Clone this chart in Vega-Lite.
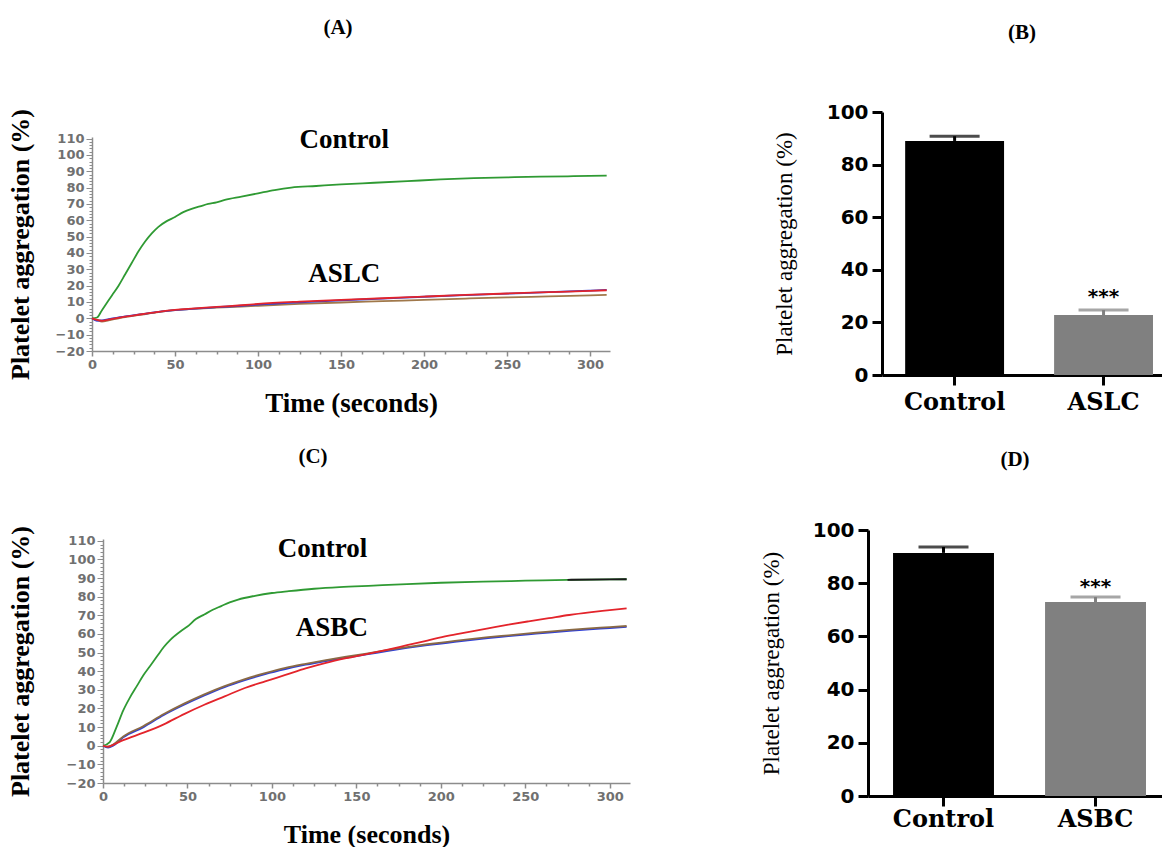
{
  "$schema": "https://vega.github.io/schema/vega-lite/v6.json",
  "background": "white",
  "padding": {"left": 7, "top": 16, "right": 0, "bottom": 0},
  "columns": 2,
  "spacing": {"row": 155, "column": 238},
  "bounds": "flush",
  "align": "each",
  "resolve": {"scale": {"color": "independent", "x": "independent", "y": "independent"}},
  "config": {"view": {"stroke": null}},
  "concat": [
    {
      "width": 518,
      "height": 239,
      "title": {"text": "(A)", "font": "Liberation Serif", "fontSize": 21, "fontWeight": "bold", "color": "black", "offset": 50, "dx": -13, "anchor": "middle", "frame": "group", "baseline": "bottom"},
      "layer": [
        {
          "data": {"values": [
            {"t":0,"v":0,"s":"Control"},{"t":3,"v":0.5,"s":"Control"},{"t":6,"v":5,"s":"Control"},{"t":9,"v":9.5,"s":"Control"},{"t":12,"v":14,"s":"Control"},{"t":16,"v":20,"s":"Control"},{"t":20,"v":27,"s":"Control"},{"t":24,"v":34,"s":"Control"},{"t":28,"v":41,"s":"Control"},{"t":32,"v":47,"s":"Control"},{"t":36,"v":52,"s":"Control"},{"t":40,"v":56,"s":"Control"},{"t":45,"v":59.5,"s":"Control"},{"t":50,"v":62,"s":"Control"},{"t":55,"v":65,"s":"Control"},{"t":60,"v":67,"s":"Control"},{"t":65,"v":68.5,"s":"Control"},{"t":70,"v":70,"s":"Control"},{"t":75,"v":71,"s":"Control"},{"t":80,"v":72.5,"s":"Control"},{"t":90,"v":74.5,"s":"Control"},{"t":100,"v":76.5,"s":"Control"},{"t":110,"v":78.5,"s":"Control"},{"t":120,"v":80,"s":"Control"},{"t":135,"v":81,"s":"Control"},{"t":150,"v":82,"s":"Control"},{"t":170,"v":83,"s":"Control"},{"t":190,"v":84,"s":"Control"},{"t":210,"v":85,"s":"Control"},{"t":230,"v":85.8,"s":"Control"},{"t":250,"v":86.3,"s":"Control"},{"t":270,"v":86.7,"s":"Control"},{"t":290,"v":87,"s":"Control"},{"t":310,"v":87.3,"s":"Control"},
            {"t":0,"v":0,"s":"R3"},{"t":3,"v":-1,"s":"R3"},{"t":6,"v":-2,"s":"R3"},{"t":10,"v":-1.2,"s":"R3"},{"t":20,"v":0.8,"s":"R3"},{"t":30,"v":2.3,"s":"R3"},{"t":40,"v":3.8,"s":"R3"},{"t":50,"v":5,"s":"R3"},{"t":60,"v":5.8,"s":"R3"},{"t":75,"v":6.5,"s":"R3"},{"t":90,"v":7.2,"s":"R3"},{"t":100,"v":7.7,"s":"R3"},{"t":125,"v":8.8,"s":"R3"},{"t":150,"v":9.7,"s":"R3"},{"t":175,"v":10.5,"s":"R3"},{"t":200,"v":11.3,"s":"R3"},{"t":225,"v":12.1,"s":"R3"},{"t":250,"v":12.8,"s":"R3"},{"t":275,"v":13.4,"s":"R3"},{"t":300,"v":14,"s":"R3"},{"t":310,"v":14.3,"s":"R3"},
            {"t":0,"v":0,"s":"R2"},{"t":3,"v":-1.5,"s":"R2"},{"t":6,"v":-1.2,"s":"R2"},{"t":10,"v":-0.5,"s":"R2"},{"t":20,"v":1.2,"s":"R2"},{"t":30,"v":2.6,"s":"R2"},{"t":40,"v":4,"s":"R2"},{"t":50,"v":5,"s":"R2"},{"t":60,"v":5.8,"s":"R2"},{"t":75,"v":6.8,"s":"R2"},{"t":90,"v":7.7,"s":"R2"},{"t":100,"v":8.4,"s":"R2"},{"t":125,"v":9.8,"s":"R2"},{"t":150,"v":11,"s":"R2"},{"t":175,"v":12.1,"s":"R2"},{"t":200,"v":13.2,"s":"R2"},{"t":225,"v":14.2,"s":"R2"},{"t":250,"v":15.1,"s":"R2"},{"t":275,"v":16,"s":"R2"},{"t":300,"v":17,"s":"R2"},{"t":310,"v":17.4,"s":"R2"},
            {"t":0,"v":0,"s":"R1"},{"t":3,"v":-1,"s":"R1"},{"t":6,"v":-1.5,"s":"R1"},{"t":10,"v":-0.8,"s":"R1"},{"t":20,"v":1,"s":"R1"},{"t":30,"v":2.5,"s":"R1"},{"t":40,"v":4,"s":"R1"},{"t":50,"v":5.2,"s":"R1"},{"t":60,"v":6,"s":"R1"},{"t":75,"v":7,"s":"R1"},{"t":90,"v":8,"s":"R1"},{"t":100,"v":8.8,"s":"R1"},{"t":125,"v":10.2,"s":"R1"},{"t":150,"v":11.3,"s":"R1"},{"t":175,"v":12.3,"s":"R1"},{"t":200,"v":13.3,"s":"R1"},{"t":225,"v":14.3,"s":"R1"},{"t":250,"v":15.2,"s":"R1"},{"t":275,"v":16,"s":"R1"},{"t":300,"v":16.8,"s":"R1"},{"t":310,"v":17.2,"s":"R1"}
          ]},
          "mark": {"type": "line", "strokeWidth": 1.8, "interpolate": "monotone"},
          "encoding": {
            "x": {"field": "t", "type": "quantitative", "title": "Time (seconds)", "scale": {"domain": [0, 312], "nice": false, "zero": false},
              "axis": {"values": [0,12.5,25,37.5,50,62.5,75,87.5,100,112.5,125,137.5,150,162.5,175,187.5,200,212.5,225,237.5,250,262.5,275,287.5,300],
                "tickCount": 500, "format": "d",
                "labelExpr": "datum.value % 50 === 0 ? datum.label : ''",
                "tickSize": {"condition": {"test": "datum.value % 50 === 0", "value": 5}, "value": 3},
                "labelFlush": false, "labelOverlap": false, "grid": false,
                "domainColor": "#8c8c8c", "domainWidth": 1.5, "tickColor": "#8c8c8c", "tickWidth": 1.5,
                "labelFont": "DejaVu Sans", "labelFontSize": 13, "labelFontWeight": "bold", "labelColor": "#707070", "labelPadding": 2,
                "titleFont": "Liberation Serif", "titleFontSize": 27, "titleFontWeight": "bold", "titleColor": "black", "titlePadding": 19}},
            "y": {"field": "v", "type": "quantitative", "title": "Platelet aggregation (%)", "scale": {"domain": [-20, 111], "nice": false, "zero": false, "range": [239, 25]},
              "axis": {"values": [-20,-18,-16,-14,-12,-10,-8,-6,-4,-2,0,2,4,6,8,10,12,14,16,18,20,22,24,26,28,30,32,34,36,38,40,42,44,46,48,50,52,54,56,58,60,62,64,66,68,70,72,74,76,78,80,82,84,86,88,90,92,94,96,98,100,102,104,106,108,110],
                "tickCount": 500, "format": "d",
                "labelExpr": "datum.value % 10 === 0 ? datum.label : ''",
                "tickSize": {"condition": {"test": "datum.value % 10 === 0", "value": 6}, "value": 3},
                "labelFlush": false, "labelOverlap": false, "grid": false,
                "domainColor": "#8c8c8c", "domainWidth": 1.5, "tickColor": "#8c8c8c", "tickWidth": 1,
                "labelFont": "DejaVu Sans", "labelFontSize": 13, "labelFontWeight": "bold", "labelColor": "#707070", "labelPadding": 2,
                "titleFont": "Liberation Serif", "titleFontSize": 26, "titleFontWeight": "bold", "titleColor": "black", "titlePadding": 22}},
            "color": {"field": "s", "type": "nominal", "legend": null,
              "scale": {"domain": ["Control", "R3", "R2", "R1"], "range": ["#2f9a33", "#a0784a", "#2f3fd6", "#e3242b"]}}
          }
        },
        {
          "data": {"values": [
            {"t": 152, "v": 109, "lab": "Control"},
            {"t": 152, "v": 27.4, "lab": "ASLC"}
          ]},
          "mark": {"type": "text", "font": "Liberation Serif", "fontSize": 27, "fontWeight": "bold", "align": "center", "baseline": "middle", "color": "black"},
          "encoding": {
            "x": {"field": "t", "type": "quantitative", "title": "Time (seconds)"},
            "y": {"field": "v", "type": "quantitative", "title": "Platelet aggregation (%)"},
            "text": {"field": "lab"}
          }
        }
      ]
    },
    {
      "width": 294,
      "height": 263,
      "title": {"text": "(B)", "font": "Liberation Serif", "fontSize": 21, "fontWeight": "bold", "color": "black", "offset": 38, "anchor": "middle", "frame": "group", "dx": 7, "baseline": "bottom"},
      "data": {"values": [
        {"g": "Control", "m": 89, "u": 90.8, "star": "", "sy": 0},
        {"g": "ASLC", "m": 22.8, "u": 24.7, "star": "***", "sy": 27.5}
      ]},
      "encoding": {
        "x": {"field": "g", "type": "nominal", "sort": ["Control", "ASLC"], "title": null,
          "scale": {"range": [14, 294], "paddingInner": 0.336, "paddingOuter": 0.108, "align": 0.72},
          "axis": {"labelAngle": 0, "domainWidth": 3, "domainColor": "black", "tickSize": 10, "tickWidth": 3, "tickColor": "black",
            "labelFont": "DejaVu Serif", "labelFontSize": 24, "labelFontWeight": "bold", "labelColor": "black", "labelPadding": 5}},
        "color": {"field": "g", "type": "nominal", "legend": null, "scale": {"domain": ["Control", "ASLC"], "range": ["#000000", "#808080"]}}
      },
      "layer": [
        {
          "mark": {"type": "bar"},
          "encoding": {
            "y": {"field": "m", "type": "quantitative", "title": "Platelet aggregation (%)", "scale": {"domain": [0, 100], "nice": false},
              "axis": {"values": [0, 20, 40, 60, 80, 100], "offset": -14, "grid": false, "domainWidth": 3, "domainColor": "black", "tickSize": 10, "tickWidth": 3, "tickColor": "black",
                "labelFont": "DejaVu Sans", "labelFontSize": 20, "labelFontWeight": "bold", "labelColor": "black", "labelPadding": 4,
                "titleFont": "Liberation Serif", "titleFontSize": 23, "titleFontWeight": "normal", "titleColor": "black", "titlePadding": 30}}
          }
        },
        {
          "mark": {"type": "rule", "strokeWidth": 3},
          "encoding": {"y": {"field": "m", "type": "quantitative", "title": "Platelet aggregation (%)"}, "y2": {"field": "u"}}
        },
        {
          "mark": {"type": "tick", "thickness": 3, "size": 50},
          "encoding": {"y": {"field": "u", "type": "quantitative", "title": "Platelet aggregation (%)"}}
        },
        {
          "transform": [{"filter": "datum.star != ''"}],
          "mark": {"type": "text", "font": "DejaVu Sans", "fontSize": 20, "fontWeight": "bold", "baseline": "alphabetic", "align": "center", "color": "black"},
          "encoding": {"y": {"field": "sy", "type": "quantitative", "title": "Platelet aggregation (%)"}, "text": {"field": "star"}, "color": {"value": "black"}}
        }
      ]
    },
    {
      "width": 538,
      "height": 253,
      "title": {"text": "(C)", "font": "Liberation Serif", "fontSize": 21, "fontWeight": "bold", "color": "black", "offset": 38, "dx": -48, "anchor": "middle", "frame": "group", "baseline": "bottom"},
      "layer": [
        {
          "data": {"values": [
            {"t":0,"v":0,"s":"Control"},{"t":4,"v":2,"s":"Control"},{"t":8,"v":10,"s":"Control"},{"t":12,"v":19,"s":"Control"},{"t":16,"v":26,"s":"Control"},{"t":20,"v":32,"s":"Control"},{"t":24,"v":38,"s":"Control"},{"t":28,"v":43,"s":"Control"},{"t":32,"v":48,"s":"Control"},{"t":36,"v":53,"s":"Control"},{"t":40,"v":57,"s":"Control"},{"t":46,"v":61.5,"s":"Control"},{"t":50,"v":64,"s":"Control"},{"t":55,"v":68,"s":"Control"},{"t":60,"v":70.5,"s":"Control"},{"t":65,"v":73,"s":"Control"},{"t":70,"v":75,"s":"Control"},{"t":75,"v":77,"s":"Control"},{"t":80,"v":78.5,"s":"Control"},{"t":90,"v":80.5,"s":"Control"},{"t":100,"v":82,"s":"Control"},{"t":110,"v":83,"s":"Control"},{"t":125,"v":84.3,"s":"Control"},{"t":140,"v":85.2,"s":"Control"},{"t":160,"v":86,"s":"Control"},{"t":180,"v":86.8,"s":"Control"},{"t":200,"v":87.5,"s":"Control"},{"t":225,"v":88.1,"s":"Control"},{"t":250,"v":88.6,"s":"Control"},{"t":275,"v":89.1,"s":"Control"},{"t":300,"v":89.3,"s":"Control"},{"t":310,"v":89.4,"s":"Control"},
            {"t":275,"v":89.1,"s":"ControlEnd"},{"t":300,"v":89.3,"s":"ControlEnd"},{"t":310,"v":89.4,"s":"ControlEnd"},
            {"t":0,"v":0,"s":"R2"},{"t":3,"v":-1,"s":"R2"},{"t":6,"v":0,"s":"R2"},{"t":12,"v":4.5,"s":"R2"},{"t":24,"v":10,"s":"R2"},{"t":36,"v":16.5,"s":"R2"},{"t":48,"v":22,"s":"R2"},{"t":60,"v":27,"s":"R2"},{"t":72,"v":31.5,"s":"R2"},{"t":84,"v":35.2,"s":"R2"},{"t":96,"v":38.5,"s":"R2"},{"t":108,"v":41.2,"s":"R2"},{"t":120,"v":43.5,"s":"R2"},{"t":132,"v":45.5,"s":"R2"},{"t":144,"v":47.3,"s":"R2"},{"t":156,"v":49,"s":"R2"},{"t":168,"v":50.8,"s":"R2"},{"t":180,"v":52.5,"s":"R2"},{"t":192,"v":54,"s":"R2"},{"t":204,"v":55.3,"s":"R2"},{"t":216,"v":56.6,"s":"R2"},{"t":228,"v":57.8,"s":"R2"},{"t":240,"v":58.8,"s":"R2"},{"t":252,"v":59.8,"s":"R2"},{"t":264,"v":60.8,"s":"R2"},{"t":276,"v":61.7,"s":"R2"},{"t":288,"v":62.5,"s":"R2"},{"t":300,"v":63.2,"s":"R2"},{"t":310,"v":63.8,"s":"R2"},
            {"t":0,"v":0,"s":"R3"},{"t":3,"v":-0.5,"s":"R3"},{"t":6,"v":0.6,"s":"R3"},{"t":12,"v":5,"s":"R3"},{"t":24,"v":10.6,"s":"R3"},{"t":36,"v":17,"s":"R3"},{"t":48,"v":22.6,"s":"R3"},{"t":60,"v":27.6,"s":"R3"},{"t":72,"v":32,"s":"R3"},{"t":84,"v":35.8,"s":"R3"},{"t":96,"v":39,"s":"R3"},{"t":108,"v":41.8,"s":"R3"},{"t":120,"v":44,"s":"R3"},{"t":132,"v":46,"s":"R3"},{"t":144,"v":47.8,"s":"R3"},{"t":156,"v":49.5,"s":"R3"},{"t":168,"v":51.3,"s":"R3"},{"t":180,"v":53,"s":"R3"},{"t":192,"v":54.5,"s":"R3"},{"t":204,"v":55.8,"s":"R3"},{"t":216,"v":57.1,"s":"R3"},{"t":228,"v":58.3,"s":"R3"},{"t":240,"v":59.3,"s":"R3"},{"t":252,"v":60.3,"s":"R3"},{"t":264,"v":61.3,"s":"R3"},{"t":276,"v":62.2,"s":"R3"},{"t":288,"v":63,"s":"R3"},{"t":300,"v":63.7,"s":"R3"},{"t":310,"v":64.3,"s":"R3"},
            {"t":0,"v":0,"s":"R1"},{"t":3,"v":-0.5,"s":"R1"},{"t":6,"v":0.5,"s":"R1"},{"t":12,"v":3,"s":"R1"},{"t":24,"v":7,"s":"R1"},{"t":36,"v":11.5,"s":"R1"},{"t":48,"v":17,"s":"R1"},{"t":60,"v":22,"s":"R1"},{"t":72,"v":26.5,"s":"R1"},{"t":84,"v":31,"s":"R1"},{"t":96,"v":34.6,"s":"R1"},{"t":108,"v":38,"s":"R1"},{"t":120,"v":41.5,"s":"R1"},{"t":132,"v":44.5,"s":"R1"},{"t":144,"v":47,"s":"R1"},{"t":156,"v":49.2,"s":"R1"},{"t":168,"v":51.5,"s":"R1"},{"t":180,"v":54,"s":"R1"},{"t":192,"v":56.5,"s":"R1"},{"t":204,"v":59,"s":"R1"},{"t":216,"v":61,"s":"R1"},{"t":228,"v":63,"s":"R1"},{"t":240,"v":65,"s":"R1"},{"t":252,"v":66.8,"s":"R1"},{"t":264,"v":68.5,"s":"R1"},{"t":276,"v":70.2,"s":"R1"},{"t":288,"v":71.6,"s":"R1"},{"t":300,"v":72.8,"s":"R1"},{"t":310,"v":73.8,"s":"R1"}
          ]},
          "mark": {"type": "line", "strokeWidth": 1.8, "interpolate": "monotone"},
          "encoding": {
            "x": {"field": "t", "type": "quantitative", "title": "Time (seconds)", "scale": {"domain": [0, 312], "nice": false, "zero": false, "range": [11, 538]},
              "axis": {"values": [0,12.5,25,37.5,50,62.5,75,87.5,100,112.5,125,137.5,150,162.5,175,187.5,200,212.5,225,237.5,250,262.5,275,287.5,300],
                "tickCount": 500, "format": "d",
                "labelExpr": "datum.value % 50 === 0 ? datum.label : ''",
                "tickSize": {"condition": {"test": "datum.value % 50 === 0", "value": 5}, "value": 3},
                "labelFlush": false, "labelOverlap": false, "grid": false,
                "domainColor": "#8c8c8c", "domainWidth": 1.5, "tickColor": "#8c8c8c", "tickWidth": 1.5,
                "labelFont": "DejaVu Sans", "labelFontSize": 13, "labelFontWeight": "bold", "labelColor": "#707070", "labelPadding": 2,
                "titleFont": "Liberation Serif", "titleFontSize": 26, "titleFontWeight": "bold", "titleColor": "black", "titlePadding": 18}},
            "y": {"field": "v", "type": "quantitative", "title": "Platelet aggregation (%)", "scale": {"domain": [-20, 111], "nice": false, "zero": false, "range": [253, 9]},
              "axis": {"values": [-20,-18,-16,-14,-12,-10,-8,-6,-4,-2,0,2,4,6,8,10,12,14,16,18,20,22,24,26,28,30,32,34,36,38,40,42,44,46,48,50,52,54,56,58,60,62,64,66,68,70,72,74,76,78,80,82,84,86,88,90,92,94,96,98,100,102,104,106,108,110],
                "tickCount": 500, "offset": -11, "format": "d",
                "labelExpr": "datum.value % 10 === 0 ? datum.label : ''",
                "tickSize": {"condition": {"test": "datum.value % 10 === 0", "value": 6}, "value": 3},
                "labelFlush": false, "labelOverlap": false, "grid": false,
                "domainColor": "#8c8c8c", "domainWidth": 1.5, "tickColor": "#8c8c8c", "tickWidth": 1,
                "labelFont": "DejaVu Sans", "labelFontSize": 13, "labelFontWeight": "bold", "labelColor": "#707070", "labelPadding": 2,
                "titleFont": "Liberation Serif", "titleFontSize": 26, "titleFontWeight": "bold", "titleColor": "black", "titlePadding": 33}},
            "color": {"field": "s", "type": "nominal", "legend": null,
              "scale": {"domain": ["Control", "ControlEnd", "R2", "R3", "R1"], "range": ["#2f9a33", "#1a1a1a", "#2f3fd6", "#8a6a45", "#e3242b"]}}
          }
        },
        {
          "data": {"values": [
            {"t": 130, "v": 105.8, "lab": "Control"},
            {"t": 135.5, "v": 63.3, "lab": "ASBC"}
          ]},
          "mark": {"type": "text", "font": "Liberation Serif", "fontSize": 27, "fontWeight": "bold", "align": "center", "baseline": "middle", "color": "black"},
          "encoding": {
            "x": {"field": "t", "type": "quantitative", "title": "Time (seconds)"},
            "y": {"field": "v", "type": "quantitative", "title": "Platelet aggregation (%)"},
            "text": {"field": "lab"}
          }
        }
      ]
    },
    {
      "width": 294,
      "height": 266,
      "title": {"text": "(D)", "font": "Liberation Serif", "fontSize": 21, "fontWeight": "bold", "color": "black", "offset": 29, "anchor": "middle", "frame": "group", "baseline": "bottom"},
      "data": {"values": [
        {"g": "Control", "m": 91.4, "u": 93.6, "star": "", "sy": 0},
        {"g": "ASBC", "m": 72.9, "u": 74.8, "star": "***", "sy": 76.5}
      ]},
      "encoding": {
        "x": {"field": "g", "type": "nominal", "sort": ["Control", "ASBC"], "title": null,
          "scale": {"paddingInner": 0.336, "paddingOuter": 0.135, "align": 0.61},
          "axis": {"labelAngle": 0, "domainWidth": 3, "domainColor": "black", "tickSize": 10, "tickWidth": 3, "tickColor": "black",
            "labelFont": "DejaVu Serif", "labelFontSize": 24, "labelFontWeight": "bold", "labelColor": "black", "labelPadding": 1}},
        "color": {"field": "g", "type": "nominal", "legend": null, "scale": {"domain": ["Control", "ASBC"], "range": ["#000000", "#808080"]}}
      },
      "layer": [
        {
          "mark": {"type": "bar"},
          "encoding": {
            "y": {"field": "m", "type": "quantitative", "title": "Platelet aggregation (%)", "scale": {"domain": [0, 100], "nice": false},
              "axis": {"values": [0, 20, 40, 60, 80, 100], "grid": false, "domainWidth": 3, "domainColor": "black", "tickSize": 10, "tickWidth": 3, "tickColor": "black",
                "labelFont": "DejaVu Sans", "labelFontSize": 20, "labelFontWeight": "bold", "labelColor": "black", "labelPadding": 4,
                "titleFont": "Liberation Serif", "titleFontSize": 23, "titleFontWeight": "normal", "titleColor": "black", "titlePadding": 29}}
          }
        },
        {
          "mark": {"type": "rule", "strokeWidth": 3},
          "encoding": {"y": {"field": "m", "type": "quantitative", "title": "Platelet aggregation (%)"}, "y2": {"field": "u"}}
        },
        {
          "mark": {"type": "tick", "thickness": 3, "size": 50},
          "encoding": {"y": {"field": "u", "type": "quantitative", "title": "Platelet aggregation (%)"}}
        },
        {
          "transform": [{"filter": "datum.star != ''"}],
          "mark": {"type": "text", "font": "DejaVu Sans", "fontSize": 20, "fontWeight": "bold", "baseline": "alphabetic", "align": "center", "color": "black"},
          "encoding": {"y": {"field": "sy", "type": "quantitative", "title": "Platelet aggregation (%)"}, "text": {"field": "star"}, "color": {"value": "black"}}
        }
      ]
    }
  ]
}
